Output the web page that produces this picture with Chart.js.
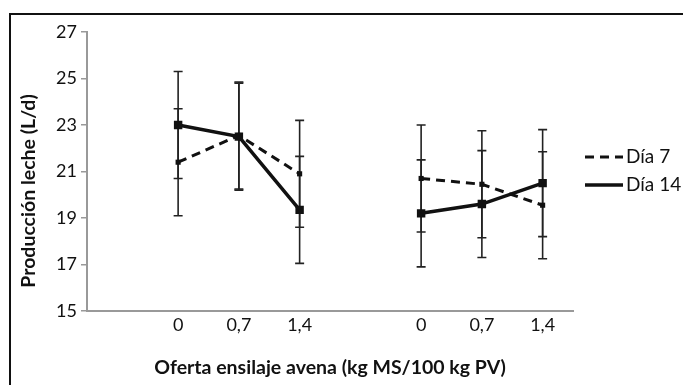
<!DOCTYPE html>
<html>
<head>
<meta charset="utf-8">
<script src="https://cdn.jsdelivr.net/npm/chart.js@4.4.1/dist/chart.umd.min.js"></script>
<style>
  html, body { margin: 0; padding: 0; background: #fff; }
  #wrap { position: relative; width: 683px; height: 385px; overflow: hidden; }
  #frame {
    position: absolute; left: 9px; top: 13px; right: -5px; bottom: -5px;
    border-top: 2px solid #111; border-left: 2px solid #111;
  }
  #chart { position: absolute; left: 0; top: 0; }
</style>
</head>
<body>
<div id="wrap">
  <div id="frame"></div>
  <canvas id="chart" width="683" height="385"></canvas>
</div>
<script>
// categorias (grupo 1 y grupo 2, con un hueco en medio)
const labels = ["", "0", "0,7", "1,4", "", "0", "0,7", "1,4"];

// produccion de leche (L/d)
const dia7 = [null, 21.4, 22.55, 20.9, null, 20.7, 20.45, 19.55];
const dia14 = [null, 23.0, 22.5, 19.35, null, 19.2, 19.6, 20.5];

// error (+/-)
const dia7Err = [null, 2.3, 2.3, 2.3, null, 2.3, 2.3, 2.3];
const dia14Err = [null, 2.3, 2.3, 2.3, null, 2.3, 2.3, 2.3];

const yTicks = [15, 17, 19, 21, 23, 25, 27];

const FONT = "Lato, 'Open Sans', sans-serif";
const INK = "#111";

// barras de error dibujadas con las escalas del grafico
const errorBars = {
  id: "errorBars",
  beforeDatasetsDraw(chart) {
    const ctx = chart.ctx;
    const y = chart.scales.y;
    ctx.save();
    ctx.strokeStyle = "#222";
    ctx.lineWidth = 1.6;
    chart.data.datasets.forEach((ds, i) => {
      const meta = chart.getDatasetMeta(i);
      meta.data.forEach((pt, j) => {
        const v = ds.data[j];
        const e = ds.errors[j];
        if (v == null || e == null) return;
        const top = y.getPixelForValue(v + e);
        const bot = y.getPixelForValue(v - e);
        ctx.beginPath();
        ctx.moveTo(pt.x, top);
        ctx.lineTo(pt.x, bot);
        ctx.moveTo(pt.x - 4.5, top);
        ctx.lineTo(pt.x + 4.5, top);
        ctx.moveTo(pt.x - 4.5, bot);
        ctx.lineTo(pt.x + 4.5, bot);
        ctx.stroke();
      });
    });
    ctx.restore();
  }
};

// leyenda a la derecha y titulo del eje Y
const extras = {
  id: "extras",
  afterDraw(chart) {
    const ctx = chart.ctx;
    ctx.save();
    chart.data.datasets.forEach((ds, i) => {
      const ly = 157 + i * 28;
      ctx.beginPath();
      ctx.strokeStyle = ds.borderColor;
      ctx.lineWidth = ds.borderWidth;
      ctx.setLineDash(ds.borderDash || []);
      ctx.moveTo(585, ly);
      ctx.lineTo(623, ly);
      ctx.stroke();
      ctx.setLineDash([]);
      ctx.fillStyle = INK;
      ctx.font = "19px " + FONT;
      ctx.textBaseline = "middle";
      ctx.textAlign = "left";
      ctx.fillText(ds.label, 626, ly);
    });

    ctx.translate(29, 191);
    ctx.rotate(-Math.PI / 2);
    ctx.font = "bold 19.5px " + FONT;
    ctx.textAlign = "center";
    ctx.textBaseline = "middle";
    ctx.fillText("Producción leche (L/d)", 0, 0);
    ctx.restore();
  }
};

new Chart(document.getElementById("chart"), {
  type: "line",
  data: {
    labels: labels,
    datasets: [
      {
        label: "Día 7",
        data: dia7,
        errors: dia7Err,
        borderColor: INK,
        backgroundColor: INK,
        borderWidth: 3,
        borderDash: [9, 6],
        pointStyle: "rect",
        pointRadius: 1.5,
        spanGaps: false,
      },
      {
        label: "Día 14",
        data: dia14,
        errors: dia14Err,
        borderColor: INK,
        backgroundColor: INK,
        borderWidth: 3.5,
        pointStyle: "rect",
        pointRadius: 3.5,
        spanGaps: false,
      },
    ],
  },
  options: {
    responsive: false,
    animation: false,
    layout: { padding: { left: 0, right: 110, top: 32, bottom: 0 } },
    plugins: {
      legend: { display: false },
      tooltip: { enabled: false },
    },
    scales: {
      x: {
        type: "category",
        offset: true,
        grid: { display: true, drawOnChartArea: false, drawTicks: false },
        border: { display: true, color: "#999", width: 2 },
        ticks: { color: INK, font: { family: FONT, size: 18 }, padding: 3, maxRotation: 0, autoSkip: false },
        title: {
          display: true,
          text: "Oferta ensilaje avena (kg MS/100 kg PV)",
          color: INK,
          font: { family: FONT, size: 19.5, weight: "bold" },
          padding: { top: 0, bottom: 6 },
        },
        afterFit(scale) { scale.height = 74; },
      },
      y: {
        min: 15,
        max: 27,
        afterBuildTicks(scale) { scale.ticks = yTicks.map(v => ({ value: v })); },
        grid: { drawOnChartArea: false, drawTicks: true, tickLength: 6, color: "#999", lineWidth: 1.5 },
        border: { display: true, color: "#999", width: 2 },
        ticks: { color: INK, font: { family: FONT, size: 18 }, padding: 4 },
        afterFit(scale) { scale.width = 87; },
      },
    },
  },
  plugins: [errorBars, extras],
});
</script>
</body>
</html>
